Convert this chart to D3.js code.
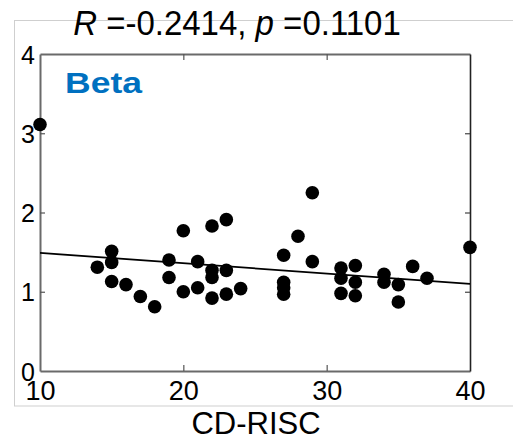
<!DOCTYPE html>
<html>
<head>
<meta charset="utf-8">
<script src="https://cdn.jsdelivr.net/npm/d3@7"></script>
<style>
html,body{margin:0;padding:0;background:#fff;}
svg{display:block;font-family:Arial,"Liberation Sans",sans-serif;}
</style>
</head>
<body>
<div id="chart"></div>
<script>
// ---- data ----
const cdRisc = [10,14,15,15,15,16,17,18,19,19,20,20,21,21,22,22,22,22,23,23,23,24,27,27,27,27,28,29,29,31,31,31,32,32,32,34,34,35,35,36,37,40];
const beta   = [3.11,1.31,1.51,1.37,1.13,1.09,0.94,0.81,1.40,1.18,1.77,1.00,1.38,1.05,1.83,1.27,1.18,0.92,1.91,1.27,0.97,1.04,1.46,1.12,1.05,0.97,1.70,2.25,1.38,1.30,1.17,0.98,1.33,1.12,0.95,1.22,1.12,1.09,0.87,1.32,1.17,1.56];
const fitX = [10,40];
const fitY = [1.49,1.10];
const xTicks = [10,20,30,40];
const yTicks = [0,1,2,3,4];
const titleR = "-0.2414";
const titleP = "0.1101";
const panelLabel = "Beta";
const xLabel = "CD-RISC";

const W = 513, H = 444;
const L = 40, R = 470, T = 54, B = 371;

const svg = d3.select("#chart").append("svg").attr("width",W).attr("height",H);

// outer light frame
svg.append("rect").attr("x",14.5).attr("y",20.5).attr("width",520).attr("height",385.5)
  .attr("fill","none").attr("stroke","#cfcfcf").attr("stroke-width",1);

const x = d3.scaleLinear().domain([10,40]).range([L,R]);
const y = d3.scaleLinear().domain([0,4]).range([B,T]);

// white plot background
svg.append("rect").attr("x",L).attr("y",T).attr("width",R-L).attr("height",B-T).attr("fill","#fff");

// title
const title = svg.append("text").attr("x",237).attr("y",35).attr("text-anchor","middle")
  .attr("font-size",33).attr("fill","#000")
  .attr("transform","translate(0,35) scale(1,1.07) translate(0,-35)");
title.append("tspan").attr("font-style","italic").text("R");
title.append("tspan").text(" =" + titleR + ", ");
title.append("tspan").attr("font-style","italic").text("p");
title.append("tspan").text(" =" + titleP);

// axes
const xAxisB = d3.axisBottom(x).tickValues(xTicks).tickSizeInner(-6).tickSizeOuter(0).tickPadding(10).tickFormat(d3.format("d"));
const gxb = svg.append("g").attr("transform",`translate(0,${B})`).call(xAxisB);
gxb.select(".domain").attr("stroke","#6a6a6a").attr("stroke-width",2);
gxb.selectAll(".tick line").attr("stroke","#555").attr("stroke-width",1.2)
  .filter(d => d===10 || d===40).remove();
gxb.selectAll(".tick text").attr("font-size",27).attr("font-family","Arial,'Liberation Sans',sans-serif")
  .attr("fill","#000").attr("y",null).attr("dy",null).attr("transform","translate(0,29)");

const xAxisT = d3.axisTop(x).tickValues(xTicks).tickSizeInner(-6).tickSizeOuter(0).tickFormat("");
const gxt = svg.append("g").attr("transform",`translate(0,${T})`).call(xAxisT);
gxt.select(".domain").attr("stroke","#6a6a6a").attr("stroke-width",2);
gxt.selectAll(".tick line").attr("stroke","#555").attr("stroke-width",1.2)
  .filter(d => d===10 || d===40).remove();

const yAxisL = d3.axisLeft(y).tickValues(yTicks).tickSizeInner(-5).tickSizeOuter(0).tickPadding(6).tickFormat(d3.format("d"));
const gyl = svg.append("g").attr("transform",`translate(${L},0)`).call(yAxisL);
gyl.select(".domain").attr("stroke","#6a6a6a").attr("stroke-width",2);
gyl.selectAll(".tick line").attr("stroke","#555").attr("stroke-width",1.2)
  .filter(d => d===0 || d===4).remove();
gyl.selectAll(".tick text").attr("font-size",25).attr("font-family","Arial,'Liberation Sans',sans-serif")
  .attr("fill","#000").attr("x",-5).attr("dy","0.36em");

const yAxisR = d3.axisRight(y).tickValues(yTicks).tickSizeInner(-5).tickSizeOuter(0).tickFormat("");
const gyr = svg.append("g").attr("transform",`translate(${R},0)`).call(yAxisR);
gyr.select(".domain").attr("stroke","#222").attr("stroke-width",1.6);
gyr.selectAll(".tick line").attr("stroke","#444").attr("stroke-width",1.2)
  .filter(d => d===0 || d===4).remove();

// panel label
svg.append("text").attr("x",65).attr("y",93).attr("font-size",30).attr("font-weight","bold")
  .attr("fill","#0070C0").attr("textLength",77).attr("lengthAdjust","spacingAndGlyphs").text(panelLabel);

// regression line
const line = d3.line().x(d=>x(d[0])).y(d=>y(d[1]));
svg.append("path").datum(fitX.map((v,i)=>[v,fitY[i]])).attr("d",line)
  .attr("fill","none").attr("stroke","#000").attr("stroke-width",1.8);

// points
svg.append("g").selectAll("circle").data(cdRisc.map((v,i)=>[v,beta[i]])).join("circle")
  .attr("cx",d=>x(d[0])).attr("cy",d=>y(d[1])).attr("r",6.8).attr("fill","#000");

// x label
svg.append("text").attr("x",256).attr("y",434).attr("text-anchor","middle")
  .attr("font-size",31).attr("fill","#000").text(xLabel);
</script>
</body>
</html>
